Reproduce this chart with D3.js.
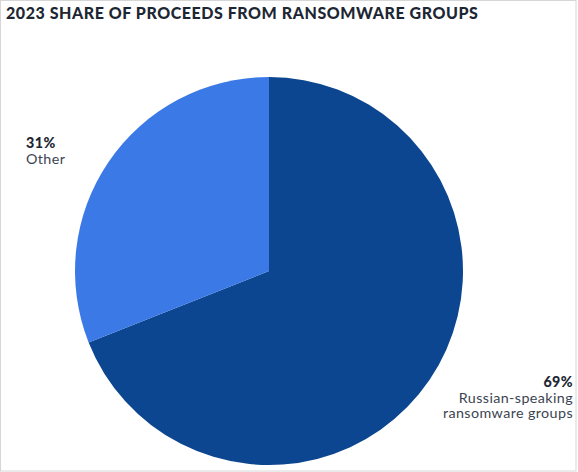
<!DOCTYPE html>
<html>
<head>
<meta charset="utf-8">
<script src="https://cdn.jsdelivr.net/npm/d3@7"></script>
<style>
  body { margin: 0; background: #fff; }
  svg { display: block; font-family: Lato, "Open Sans", sans-serif; }
</style>
</head>
<body>
<svg></svg>
<script>
// chart data
let groups = ["Russian-speaking ransomware groups", "Other"];
let shares = [69, 31];
let labelLines = [["Russian-speaking", "ransomware groups"], ["Other"]];
let colors = ["#0c4590", "#3b79e6"];
let title = "2023 SHARE OF PROCEEDS FROM RANSOMWARE GROUPS";

// page is 578 x 472
let width = 578;
let height = 472;
let cx = 269, cy = 271, radius = 194;

let svg = d3.select("svg")
            .attr("width", width)
            .attr("height", height);

// thin frame round the picture
svg.append("rect")
   .attr("x", 0.5).attr("y", 0.5)
   .attr("width", width - 2.5).attr("height", height - 1.5)
   .attr("fill", "none")
   .attr("stroke", "#d6d6d6");

svg.append("text")
   .attr("x", 6)
   .attr("y", 18.5)
   .attr("font-size", 16)
   .attr("font-weight", 900)
   .attr("letter-spacing", 0.55)
   .attr("fill", "#1d2733")
   .text(title);

let pie = d3.pie().sort(null).value(d => d);
let arc = d3.arc().innerRadius(0).outerRadius(radius);

let g = svg.append("g")
           .attr("transform", `translate(${cx}, ${cy})`);

g.selectAll("path")
 .data(pie(shares))
 .join("path")
 .attr("d", arc)
 .attr("fill", (d, i) => colors[i]);

// labels: big slice bottom right (right aligned), small slice upper left
let labelPos = [
  {x: 573, y: 387, anchor: "end"},
  {x: 26, y: 148, anchor: "start"}
];

groups.forEach((name, i) => {
  let p = labelPos[i];
  let t = svg.append("text")
             .attr("x", p.x)
             .attr("y", p.y)
             .attr("text-anchor", p.anchor)
             .attr("font-size", 14.3)
             .attr("letter-spacing", 0.4)
             .attr("fill", "#3b4451");
  t.append("tspan")
   .attr("x", p.x)
   .attr("font-weight", 900)
   .attr("fill", "#1d2733")
   .text(shares[i] + "%");
  labelLines[i].forEach(line => {
    t.append("tspan")
     .attr("x", p.x)
     .attr("dy", 15.5)
     .text(line);
  });
});
</script>
</body>
</html>
